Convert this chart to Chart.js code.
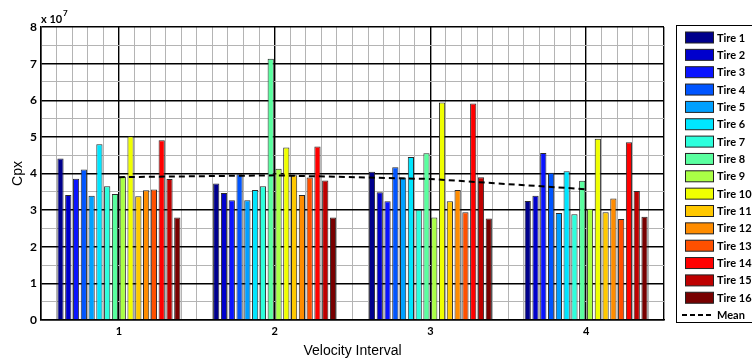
<!DOCTYPE html>
<html>
<head>
<meta charset="utf-8">
<script src="https://cdn.jsdelivr.net/npm/chart.js@4.4.1/dist/chart.umd.min.js"></script>
<style>
  html, body { margin: 0; padding: 0; background: #ffffff; }
  #wrap { width: 752px; height: 360px; }
</style>
</head>
<body>
<div id="wrap"><canvas id="c" width="752" height="360"></canvas></div>
<script>
// Cpx per tire (units of 1e7), one array per velocity interval
const intervals = ['1', '2', '3', '4'];
const tires = ['Tire 1','Tire 2','Tire 3','Tire 4','Tire 5','Tire 6','Tire 7','Tire 8',
               'Tire 9','Tire 10','Tire 11','Tire 12','Tire 13','Tire 14','Tire 15','Tire 16'];
const interval1 = [4.41, 3.41, 3.86, 4.11, 3.39, 4.80, 3.65, 3.44, 3.92, 5.02, 3.38, 3.54, 3.56, 4.91, 3.85, 2.80];
const interval2 = [3.73, 3.47, 3.27, 3.98, 3.27, 3.55, 3.65, 7.13, 4.13, 4.71, 3.95, 3.41, 3.89, 4.74, 3.81, 2.80];
const interval3 = [4.05, 3.49, 3.24, 4.17, 3.89, 4.45, 3.01, 4.55, 2.80, 5.94, 3.24, 3.55, 2.94, 5.91, 3.90, 2.77];
const interval4 = [3.25, 3.39, 4.56, 4.02, 2.92, 4.06, 2.89, 3.80, 3.04, 4.95, 2.94, 3.32, 2.76, 4.85, 3.52, 2.82];
const meanValues = [3.90, 3.95, 3.85, 3.57];
const yTicks = [0, 1, 2, 3, 4, 5, 6, 7, 8];

// jet-style colour ramp, one colour per tire
const tireColors = ['#00008c','#0000cd','#0a14ff','#0055ff','#00a0ff','#00e6ff','#2dffdc','#5aff9f',
                    '#aaff46','#f0ff00','#ffc800','#ff8c00','#ff5000','#ff0000','#be0000','#780000'];

const byInterval = [interval1, interval2, interval3, interval4];
const datasets = tires.map((name, i) => ({
  type: 'bar',
  label: name,
  data: byInterval.map(arr => arr[i]),
  backgroundColor: tireColors[i],
  borderColor: '#2a2a2a',
  borderWidth: 1,
  categoryPercentage: 0.8,
  barPercentage: 0.8,
  order: 2
}));
datasets.push({
  type: 'line',
  label: 'Mean',
  data: meanValues,
  borderColor: '#000000',
  borderWidth: 2,
  borderDash: [6, 4],
  pointRadius: 0,
  fill: false,
  tension: 0,
  order: 0
});

const xLabelFont = { family: 'Lato, "Liberation Sans", sans-serif', size: 11, weight: 'bold' };
const yLabelFont = { family: 'Lato, "Liberation Sans", sans-serif', size: 12, weight: 'bold' };
const titleFont = { family: '"Liberation Sans", Arial, sans-serif', size: 14 };

const isWhole = v => Math.abs(v - Math.round(v)) < 1e-6;
const isFrame = v => isWhole(v) || Math.abs(v - 0.5) < 1e-6 || Math.abs(v - 4.5) < 1e-6;

// Boxed legend at the right and the exponent note above the y axis
const sidePanel = {
  id: 'sidePanel',
  afterDraw(chart) {
    const ctx = chart.ctx;
    ctx.save();
    // exponent
    ctx.fillStyle = '#000';
    ctx.textBaseline = 'alphabetic';
    ctx.textAlign = 'left';
    ctx.font = 'bold 11px Lato, "Liberation Sans", sans-serif';
    ctx.fillText('x 10', 41, 23);
    ctx.font = 'bold 8px Lato, "Liberation Sans", sans-serif';
    ctx.fillText('7', 63, 16);

    // legend box
    const bx = 676.5, by = 25.5, bw = 90, bh = 297;
    ctx.fillStyle = '#fff';
    ctx.fillRect(bx, by, bw, bh);
    ctx.strokeStyle = '#000';
    ctx.lineWidth = 1;
    ctx.strokeRect(bx, by, bw, bh);

    const step = 17.35;
    const y0 = 37.5;
    ctx.font = 'bold 11px Lato, "Liberation Sans", sans-serif';
    ctx.textBaseline = 'middle';
    chart.data.datasets.forEach((ds, i) => {
      const cy = y0 + i * step;
      if (ds.type === 'bar') {
        ctx.fillStyle = ds.backgroundColor;
        ctx.fillRect(685, cy - 5.5, 28, 11);
        ctx.strokeStyle = '#222';
        ctx.lineWidth = 1;
        ctx.strokeRect(685.5, cy - 5.5, 28, 11);
      } else {
        ctx.strokeStyle = '#000';
        ctx.lineWidth = 2;
        ctx.setLineDash([5, 3]);
        ctx.beginPath();
        ctx.moveTo(682, cy);
        ctx.lineTo(714, cy);
        ctx.stroke();
        ctx.setLineDash([]);
      }
      ctx.fillStyle = '#000';
      ctx.fillText(ds.label, 717, cy + 0.5);
    });
    ctx.restore();
  }
};

new Chart(document.getElementById('c'), {
  data: { labels: intervals, datasets },
  options: {
    responsive: false,
    animation: false,
    layout: { padding: { left: 0, right: 88, top: 27, bottom: 0 } },
    plugins: { legend: { display: false }, tooltip: { enabled: false } },
    scales: {
      x: {
        type: 'category',
        position: 'bottom',
        offset: true,
        grid: { display: false, drawTicks: false },
        border: { display: true, color: '#000', width: 1.5 },
        ticks: { color: '#000', font: xLabelFont, padding: 5, maxRotation: 0 },
        title: { display: true, text: 'Velocity Interval', color: '#000', font: titleFont, padding: { top: 4.5, bottom: 0 } },
        afterFit: s => { s.height = 40; }
      },
      xg: {
        type: 'linear',
        position: 'bottom',
        min: 0.5,
        max: 4.5,
        offset: false,
        ticks: { display: false, stepSize: 0.1 },
        border: { display: false },
        grid: {
          drawTicks: false,
          color: c => isFrame(c.tick.value) ? '#000' : '#b4b4b4',
          lineWidth: c => isFrame(c.tick.value) ? 1.4 : 1
        },
        afterFit: s => { s.height = 0; }
      },
      y: {
        type: 'linear',
        min: yTicks[0],
        max: yTicks[yTicks.length - 1],
        border: { display: true, color: '#000', width: 1.5 },
        grid: {
          drawTicks: false,
          color: c => isWhole(c.tick.value) ? '#000' : '#b4b4b4',
          lineWidth: c => isWhole(c.tick.value) ? 1.4 : 1
        },
        ticks: {
          stepSize: 0.5,
          autoSkip: false,
          padding: 4,
          color: '#000',
          font: yLabelFont,
          callback: v => yTicks.includes(v) ? String(v) : ''
        },
        title: { display: true, text: 'Cpx', color: '#000', font: titleFont, padding: { top: 9.5, bottom: 0 } },
        afterFit: s => { s.width = 41; }
      }
    }
  },
  plugins: [sidePanel]
});
</script>
</body>
</html>
